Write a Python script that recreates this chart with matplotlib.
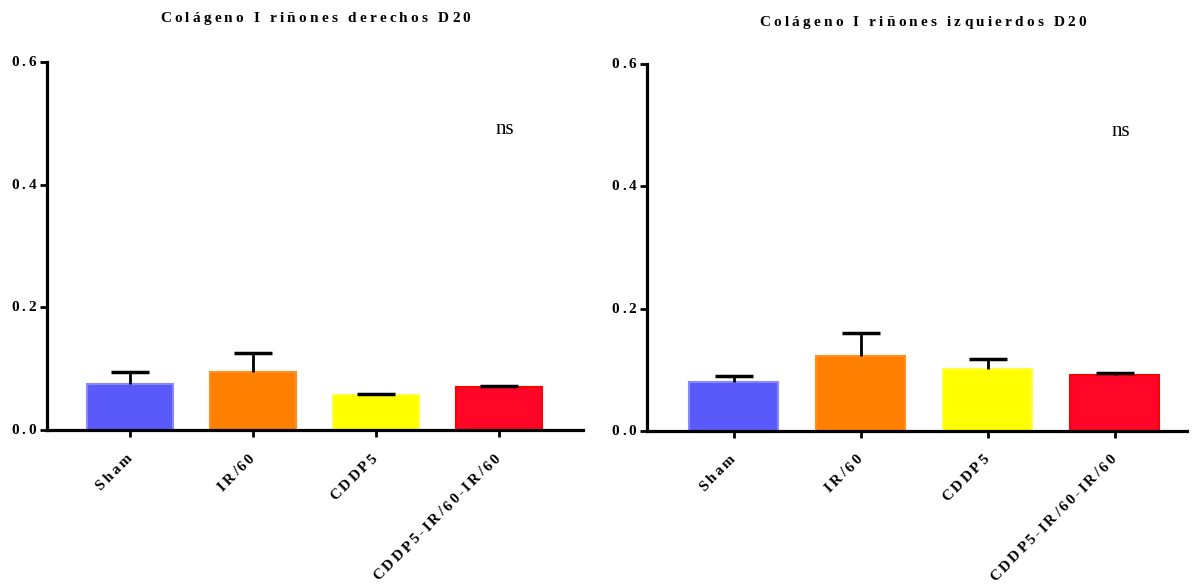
import numpy as np
import matplotlib.pyplot as plt
from matplotlib.transforms import offset_copy

groups = ['Sham', 'IR/60', 'CDDP5', 'CDDP5-IR/60-IR/60']
colors = ['#5A5AFA', '#FF8000', '#FFFF00', '#FF0528']
edges = ['#8888FF', '#FF9020', '#FFFF40', '#FF0000']

# riñones derechos
der_mean = [0.076, 0.095, 0.058, 0.071]
der_sem = [0.019, 0.030, 0.001, 0.001]
# riñones izquierdos
izq_mean = [0.080, 0.123, 0.101, 0.092]
izq_sem = [0.010, 0.037, 0.016, 0.002]

titles = ['Colágeno I riñones derechos D20', 'Colágeno I riñones izquierdos D20']
yticks = [0.0, 0.2, 0.4, 0.6]
ylabels = ['0.0', '0.2', '0.4', '0.6']

plt.rcParams['font.family'] = ['Liberation Serif', 'DejaVu Serif']

fig = plt.figure(figsize=(12.03, 5.86), dpi=100)
ax1 = fig.add_axes([0.039, 0.266, 0.446, 0.628])
ax2 = fig.add_axes([0.538, 0.2645, 0.449, 0.6265])
renderer = fig.canvas.get_renderer()


def spaced_text(ax, x, y, s, transform, size=11, gap=3.0, ha='left',
                rotation=0, dx=0, dy=0):
    # letter-spaced bold text, drawn one glyph at a time along the baseline
    widths = []
    for ch in s:
        if ch == ' ':
            widths.append(0.25 * size * fig.dpi / 72)
            continue
        t = fig.text(0, 0, ch, fontsize=size, fontweight='bold')
        widths.append(t.get_window_extent(renderer).width)
        t.remove()
    total = sum(widths) + gap * (len(s) - 1)
    pos = {'left': 0, 'center': -total / 2, 'right': -total}[ha]
    c, sn = np.cos(np.radians(rotation)), np.sin(np.radians(rotation))
    for ch, w in zip(s, widths):
        if ch != ' ':
            tr = offset_copy(transform, fig=fig, x=dx + pos * c, y=dy + pos * sn,
                             units='dots')
            ax.text(x, y, ch, transform=tr, ha='left', va='baseline',
                    rotation=rotation, rotation_mode='anchor',
                    fontsize=size, fontweight='bold', clip_on=False)
        pos += w + gap


def panel(ax, means, sems, title, xmax, title_x, title_dy):
    x = np.arange(len(groups))
    ax.bar(x, means, width=0.7, color=colors, edgecolor=edges, linewidth=1.5, zorder=2)
    eb = ax.errorbar(x, means, yerr=[np.zeros(len(sems)), sems], fmt='none',
                     ecolor='black', elinewidth=2, capsize=14, capthick=2.5, zorder=3)
    eb[1][0].set_visible(False)  # only the upper cap
    ax.set_xlim(-0.68, xmax)
    ax.set_ylim(0, 0.6)
    ax.set_yticks(yticks)
    ax.set_yticklabels([])
    ax.set_xticks(x)
    ax.set_xticklabels([])
    for s in ['top', 'right']:
        ax.spines[s].set_visible(False)
    for s in ['left', 'bottom']:
        ax.spines[s].set_linewidth(2.3)
    ax.tick_params(axis='both', width=2, length=5, direction='out')

    for v, lab in zip(yticks, ylabels):
        spaced_text(ax, 0, v, lab, ax.get_yaxis_transform(), ha='right',
                    gap=2.8, dx=-11, dy=-4)
    for i, lab in zip(x, groups):
        spaced_text(ax, i, 0, lab, ax.get_xaxis_transform(), ha='right',
                    gap=2.5, rotation=45, dx=2, dy=-29)
    spaced_text(ax, title_x, 1.12, title, ax.transAxes, ha='center', gap=3.2,
                dy=title_dy)
    ax.text(3.05, 0.49, 'ns', ha='center', va='center', fontsize=15)


panel(ax1, der_mean, der_sem, titles[0], 3.69, 0.5, -4)
panel(ax2, izq_mean, izq_sem, titles[1], 3.57, 0.51, -6)

fig.savefig('out.png', dpi=100)
